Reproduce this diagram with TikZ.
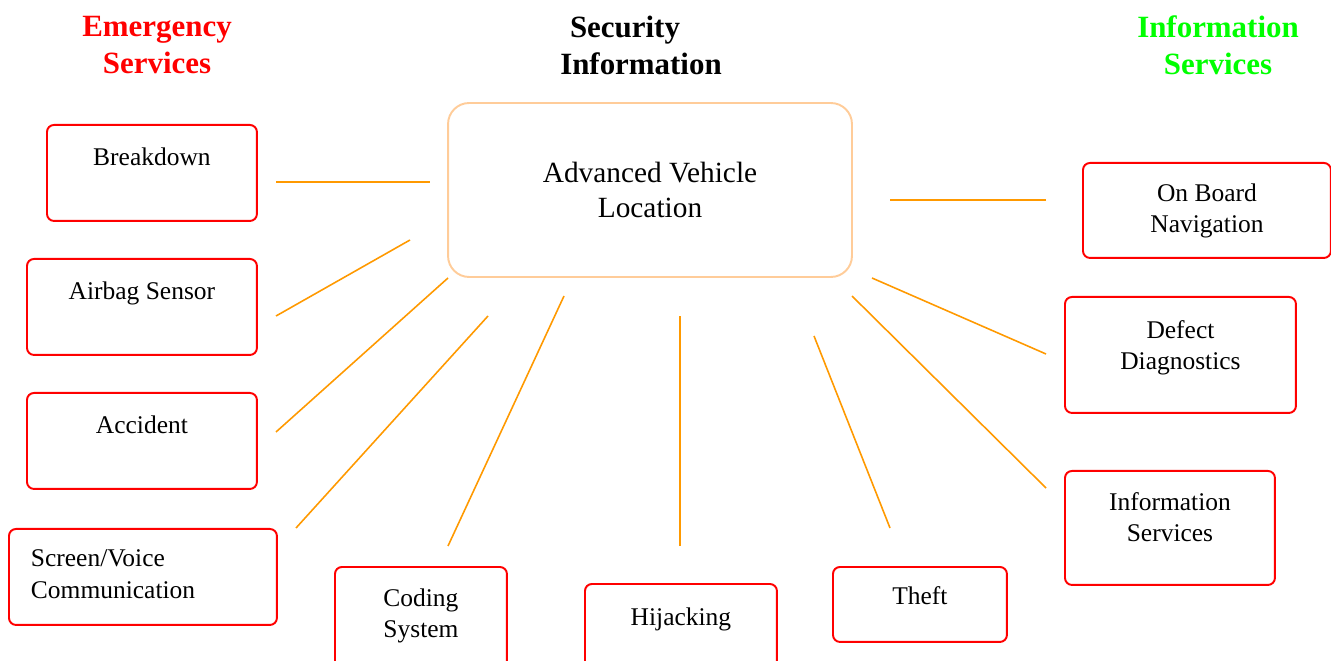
\documentclass[tikz,border=0pt]{standalone}
\usepackage{fontspec}
\setmainfont{Liberation Serif}
\definecolor{alarmred}{RGB}{255,0,0}
\definecolor{linkorange}{RGB}{255,153,0}
\definecolor{hubpeach}{RGB}{255,204,153}
\definecolor{infogreen}{RGB}{0,255,0}
\tikzset{
  card/.style={draw=alarmred, line width=1.1pt, rounded corners=4pt, anchor=north west,
    inner sep=0pt, align=center, font=\fontsize{14.5}{18.1}\selectfont},
  hub/.style={draw=hubpeach, line width=1.1pt, rounded corners=12pt, inner sep=0pt,
    minimum width=8.08cm, minimum height=3.48cm, align=center,
    font=\fontsize{16.7}{20.4}\selectfont},
  heading/.style={align=center, font=\fontsize{17.6}{21}\selectfont\bfseries},
  link/.style={draw=linkorange, line width=0.9pt}
}
\begin{document}
\begin{tikzpicture}[x=0.02cm, y=-0.02cm]
            \useasboundingbox (0,0) rectangle (1331,661);

            % headings
            \node[heading, text=alarmred] (emerg) at (157,45) {Emergency\\Services};
            \node[heading] (secur) at (641,45) {Security\hspace*{0.64cm}\\Information};
            \node[heading, text=infogreen] (infoh) at (1218,45) {Information\\Services};

            % centre
            \node[hub] (avl) at (650,190) {Advanced Vehicle\\Location};

            % left column
            \node[card, minimum width=4.2cm, text height=0.82cm, text depth=1.1cm] (breakdown) at (46,124) {Breakdown};
            \node[card, minimum width=4.6cm, text height=0.82cm, text depth=1.1cm] (airbag) at (26,258) {Airbag Sensor};
            \node[card, minimum width=4.6cm, text height=0.82cm, text depth=1.1cm] (accident) at (26,392) {Accident};
            \node[card, align=left, text width=4.48cm, inner xsep=0.44cm, text height=0.76cm, text depth=1.16cm] (screen) at (8,528) {Screen/Voice\\Communication};

            % bottom row (two-line cards sit on their last line)
            \node[card, minimum width=3.44cm, text height=1.42cm, text depth=1.78cm] (coding) at (334,566) {Coding\\System};
            \node[card, minimum width=3.84cm, text height=0.84cm, text depth=2.0cm] (hijack) at (584,583) {Hijacking};
            \node[card, minimum width=3.48cm, text height=0.76cm, text depth=0.74cm] (theft) at (832,566) {Theft};

            % right column
            \node[card, minimum width=4.96cm, text height=1.40cm, text depth=0.50cm] (onboard) at (1082,162) {On Board\\Navigation};
            \node[card, minimum width=4.62cm, text height=1.46cm, text depth=0.86cm] (defect) at (1064,296) {Defect\\Diagnostics};
            \node[card, minimum width=4.2cm, text height=1.42cm, text depth=0.86cm] (infoserv) at (1064,470) {Information\\Services};

            % spokes
            \coordinate (bd-a) at (276,182);  \coordinate (bd-b) at (430,182);
            \coordinate (ab-a) at (276,316);  \coordinate (ab-b) at (410,240);
            \coordinate (ac-a) at (276,432);  \coordinate (ac-b) at (448,278);
            \coordinate (sv-a) at (296,528);  \coordinate (sv-b) at (488,316);
            \coordinate (cs-a) at (448,546);  \coordinate (cs-b) at (564,296);
            \coordinate (hj-a) at (680,546);  \coordinate (hj-b) at (680,316);
            \coordinate (th-a) at (890,528);  \coordinate (th-b) at (814,336);
            \coordinate (is-a) at (1046,488); \coordinate (is-b) at (852,296);
            \coordinate (dd-a) at (1046,354); \coordinate (dd-b) at (872,278);
            \coordinate (ob-a) at (1046,200); \coordinate (ob-b) at (890,200);

            \draw[link] (bd-a) -- (bd-b);
            \draw[link] (ab-a) -- (ab-b);
            \draw[link] (ac-a) -- (ac-b);
            \draw[link] (sv-a) -- (sv-b);
            \draw[link] (cs-a) -- (cs-b);
            \draw[link] (hj-a) -- (hj-b);
            \draw[link] (th-a) -- (th-b);
            \draw[link] (is-a) -- (is-b);
            \draw[link] (dd-a) -- (dd-b);
            \draw[link] (ob-a) -- (ob-b);
        \end{tikzpicture}
\end{document}
